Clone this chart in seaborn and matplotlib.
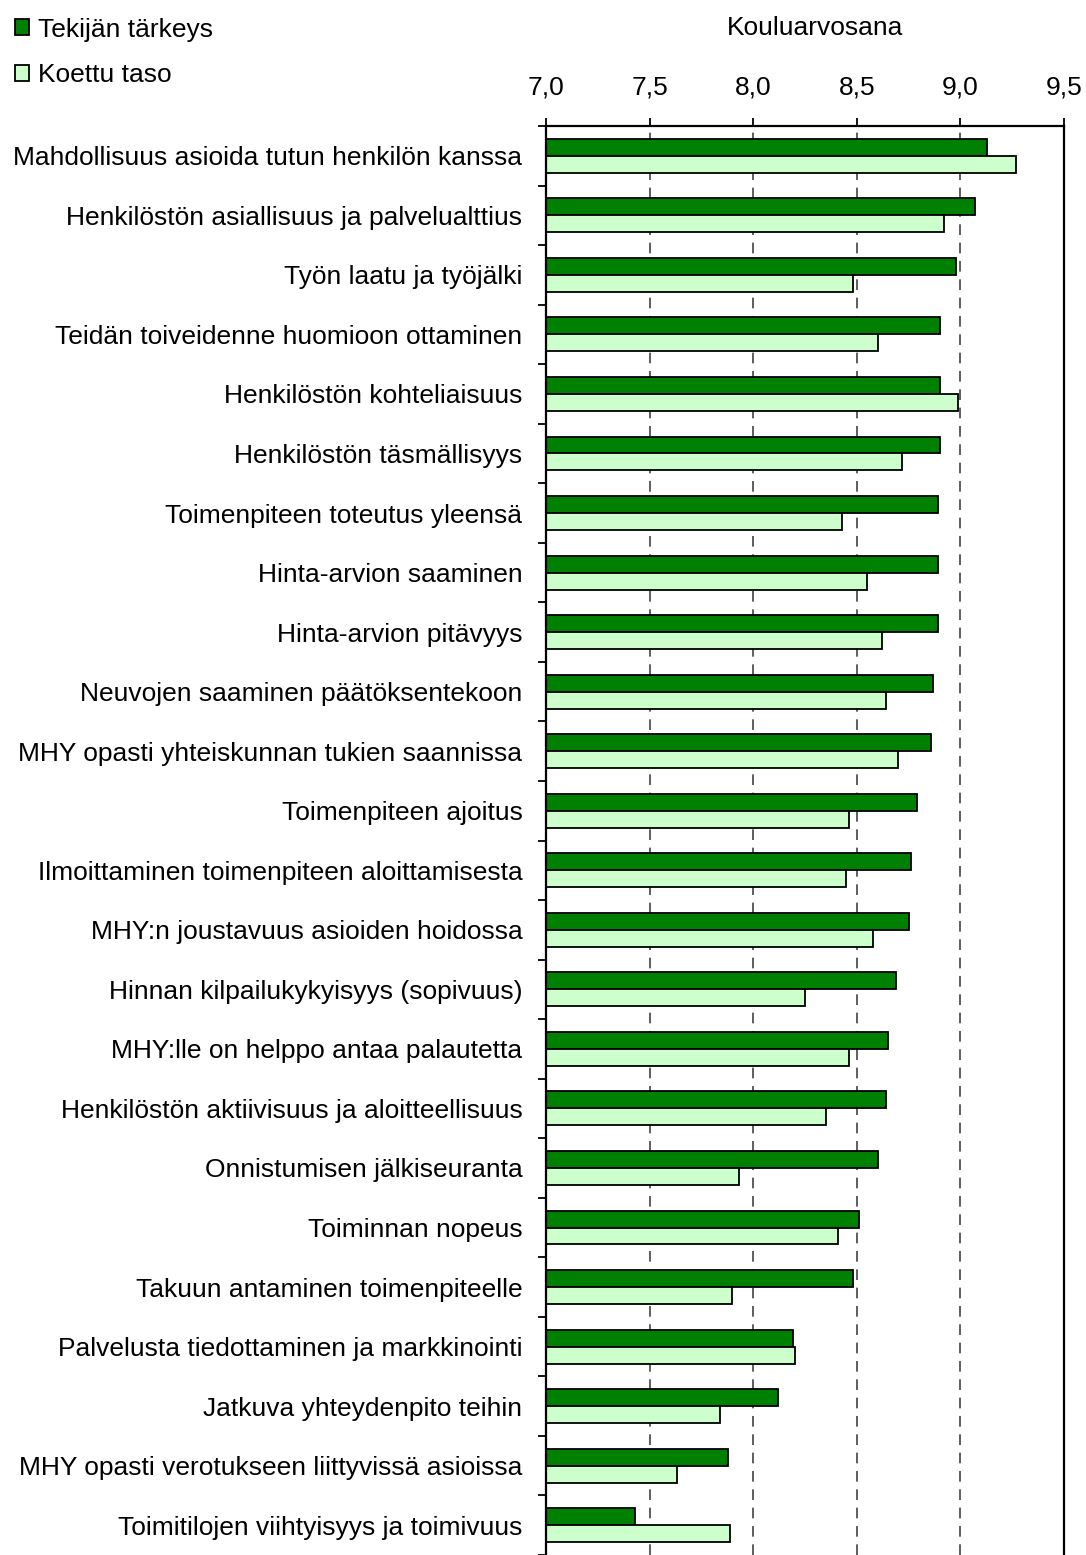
import numpy as np
import pandas as pd
import matplotlib
matplotlib.use("Agg")
import matplotlib.pyplot as plt
import seaborn as sns
from matplotlib.ticker import FixedLocator

# Service factors, top to bottom
categories = [
    "Mahdollisuus asioida tutun henkilön kanssa",
    "Henkilöstön asiallisuus ja palvelualttius",
    "Työn laatu ja työjälki",
    "Teidän toiveidenne huomioon ottaminen",
    "Henkilöstön kohteliaisuus",
    "Henkilöstön täsmällisyys",
    "Toimenpiteen toteutus yleensä",
    "Hinta-arvion saaminen",
    "Hinta-arvion pitävyys",
    "Neuvojen saaminen päätöksentekoon",
    "MHY opasti yhteiskunnan tukien saannissa",
    "Toimenpiteen ajoitus",
    "Ilmoittaminen toimenpiteen aloittamisesta",
    "MHY:n joustavuus asioiden hoidossa",
    "Hinnan kilpailukykyisyys (sopivuus)",
    "MHY:lle on helppo antaa palautetta",
    "Henkilöstön aktiivisuus ja aloitteellisuus",
    "Onnistumisen jälkiseuranta",
    "Toiminnan nopeus",
    "Takuun antaminen toimenpiteelle",
    "Palvelusta tiedottaminen ja markkinointi",
    "Jatkuva yhteydenpito teihin",
    "MHY opasti verotukseen liittyvissä asioissa",
    "Toimitilojen viihtyisyys ja toimivuus",
]

importance = [9.13, 9.07, 8.98, 8.90, 8.90, 8.90, 8.89, 8.89, 8.89, 8.87,
              8.86, 8.79, 8.76, 8.75, 8.69, 8.65, 8.64, 8.60, 8.51, 8.48,
              8.19, 8.12, 7.88, 7.43]
experienced = [9.27, 8.92, 8.48, 8.60, 8.99, 8.72, 8.43, 8.55, 8.62, 8.64,
               8.70, 8.46, 8.45, 8.58, 8.25, 8.46, 8.35, 7.93, 8.41, 7.90,
               8.20, 7.84, 7.63, 7.89]

series_names = ["Tekijän tärkeys", "Koettu taso"]
series_colors = ["#008000", "#CCFFCC"]

x_ticks = [7.0, 7.5, 8.0, 8.5, 9.0, 9.5]
x_tick_labels = ["7,0", "7,5", "8,0", "8,5", "9,0", "9,5"]
axis_title = "Kouluarvosana"

n = len(categories)
df = pd.DataFrame({
    "Tekijä": categories * 2,
    "Arvosana": importance + experienced,
    "Sarja": [series_names[0]] * n + [series_names[1]] * n,
})

sns.set_theme(style="white")
plt.rcParams["font.family"] = ["Liberation Sans", "DejaVu Sans"]
plt.rcParams["text.color"] = "black"
FS = 19

fig = plt.figure(figsize=(10.86, 15.55), dpi=100)
ax = fig.add_axes([546 / 1086, 0.0, 518 / 1086, 1 - 126 / 1555])

sns.barplot(
    data=df, y="Tekijä", x="Arvosana", hue="Sarja",
    order=categories, hue_order=series_names, palette=series_colors,
    orient="h", width=0.57, saturation=1, errorbar=None,
    edgecolor="black", linewidth=1.3, ax=ax,
)

ax.set_xlim(7.0, 9.5)
ax.set_ylim(n - 0.5, -0.5)

# x axis on top
ax.xaxis.tick_top()
ax.set_xticks(x_ticks)
ax.set_xticklabels(x_tick_labels, fontsize=FS, color="black")
ax.tick_params(axis="x", which="major", direction="out", length=6,
               width=1.3, color="black", pad=13, top=True, bottom=False)
ax.set_xlabel("")
ax.set_ylabel("")

# category labels centred, tick marks between categories
ax.set_yticks(np.arange(n))
ax.set_yticklabels(categories, fontsize=FS, color="black")
ax.tick_params(axis="y", which="major", length=0, pad=17)
ax.yaxis.set_minor_locator(FixedLocator(np.arange(-0.5, n, 1.0)))
ax.tick_params(axis="y", which="minor", direction="out", length=6,
               width=1.3, color="black", left=True)

ax.grid(axis="x", linestyle=(0, (7, 5)), color="#333333", linewidth=1.1)
ax.grid(axis="y", visible=False)
ax.set_axisbelow(True)

for side in ["left", "right", "top"]:
    ax.spines[side].set_visible(True)
    ax.spines[side].set_color("black")
    ax.spines[side].set_linewidth(1.6)
ax.spines["bottom"].set_visible(False)

handles, labels = ax.get_legend_handles_labels()
if ax.legend_ is not None:
    ax.legend_.remove()
fig.legend(handles, labels, loc="upper left",
           bbox_to_anchor=(4 / 1086, 1 - 7 / 1555), frameon=False,
           fontsize=FS, handlelength=0.55, handleheight=0.55,
           handletextpad=0.35, labelspacing=0.83, borderaxespad=0,
           labelcolor="black")

fig.text(815 / 1086, 1 - 28 / 1555, axis_title, fontsize=FS,
         ha="center", va="center", color="black")

fig.savefig("out.png", dpi=100)
